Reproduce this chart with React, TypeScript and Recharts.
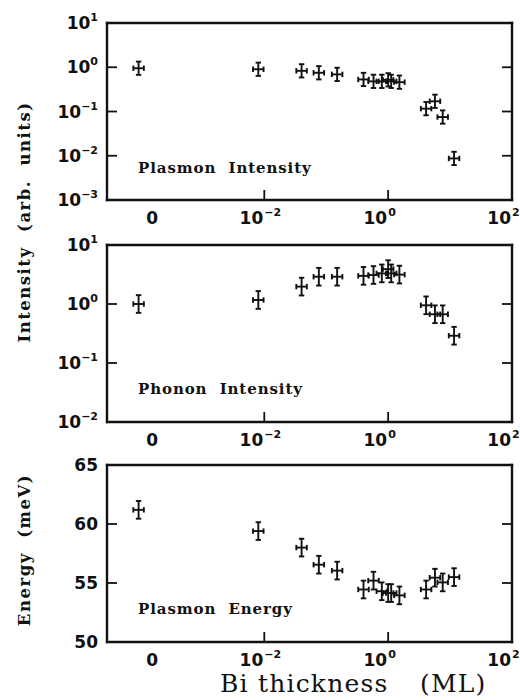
import React from 'react';
import { ScatterChart, Scatter, XAxis, YAxis, ErrorBar } from 'recharts';

// Bi thickness in monolayers; 0 is the clean surface, drawn left of the log axis
const thickness = [0, 0.008, 0.04, 0.076, 0.15, 0.4, 0.58, 0.79, 1.0, 1.12, 1.52, 4.1, 5.7, 7.6, 11.6];
const plasmonIntensity = [0.95, 0.9, 0.83, 0.75, 0.69, 0.53, 0.48, 0.48, 0.52, 0.48, 0.46, 0.116, 0.17, 0.075, 0.0087];
const phononIntensity = [1.0, 1.17, 1.97, 2.9, 2.9, 3.0, 3.1, 3.3, 3.9, 3.3, 3.15, 0.95, 0.67, 0.67, 0.29];
const plasmonEnergy = [61.2, 59.4, 58.0, 56.55, 56.05, 54.45, 55.2, 54.3, 54.15, 54.15, 53.95, 54.45, 55.45, 55.05, 55.5];

// error sizes: x in decades, intensities in decades, energy in meV
const X_ERR = 0.085;
const LOG_ERR = 0.15;
const E_ERR = 0.75;

// x axis is log10(thickness); the "0" point and its label sit on a broken segment
const X_MIN = -4.54;
const X_MAX = 2;
const ZERO_POS = -4.03;
const ZERO_LABEL = -3.81;
const xTicks = [ZERO_LABEL, -2, 0, 2];
const xMarks = [-2, 0];

const FONT_TICK = '"DejaVu Sans", sans-serif';
const FONT_TEXT = '"DejaVu Serif", serif';

const xPos = (t: number) => (t === 0 ? ZERO_POS : Math.log10(t));

const rows = (vals: number[], log: boolean, err: number) =>
  thickness.map((t, i) => ({ x: xPos(t), y: log ? Math.log10(vals[i]) : vals[i], ex: X_ERR, ey: err }));

const minus = (n: number) => (n < 0 ? '\u2212' + Math.abs(n) : String(n));

const panels = [
  { top: 23, data: rows(plasmonIntensity, true, LOG_ERR), domain: [-3, 1], ticks: [-3, -2, -1, 0, 1], log: true, note: 'Plasmon  Intensity', noteY: 173 },
  { top: 245, data: rows(phononIntensity, true, LOG_ERR), domain: [-2, 1], ticks: [-2, -1, 0, 1], log: true, note: 'Phonon  Intensity', noteY: 394 },
  { top: 465, data: rows(plasmonEnergy, false, E_ERR), domain: [50, 65], ticks: [50, 55, 60, 65], log: false, note: 'Plasmon  Energy', noteY: 614 },
];

const PLOT_H = 177;
const MARK = 10;
const INK = '#111';
const TICK_FS = 17;

const LeftTick = ({ x, y, payload, domain, log }: any) => {
  const v = payload.value;
  const inner = v > domain[0] && v < domain[1];
  return (
    <g>
      {inner && <line x1={x} x2={x + MARK} y1={y} y2={y} stroke={INK} strokeWidth={1.8} />}
      {log ? (
        <text x={x - 9} y={y + 6} textAnchor="end" fontFamily={FONT_TICK} fontWeight="bold" fontSize={TICK_FS} fill={INK}>
          <tspan>10</tspan>
          <tspan dy={-8} fontSize={11}>{minus(v)}</tspan>
        </text>
      ) : (
        <text x={x - 9} y={y + 6} textAnchor="end" fontFamily={FONT_TICK} fontWeight="bold" fontSize={TICK_FS} fill={INK}>{v}</text>
      )}
    </g>
  );
};

const RightTick = ({ x, y, payload, domain }: any) => {
  const v = payload.value;
  if (!(v > domain[0] && v < domain[1])) return <g />;
  return <line x1={x} x2={x - MARK} y1={y} y2={y} stroke={INK} strokeWidth={1.8} />;
};

const TopTick = ({ x, y, payload }: any) => {
  if (!xMarks.includes(payload.value)) return <g />;
  return <line x1={x} x2={x} y1={y} y2={y + MARK} stroke={INK} strokeWidth={1.8} />;
};

const BottomTick = ({ x, y, payload }: any) => {
  const v = payload.value;
  return (
    <g>
      {xMarks.includes(v) && <line x1={x} x2={x} y1={y} y2={y - MARK} stroke={INK} strokeWidth={1.8} />}
      {v === ZERO_LABEL ? (
        <text x={x} y={y + 24} textAnchor="middle" fontFamily={FONT_TICK} fontWeight="bold" fontSize={TICK_FS} fill={INK}>0</text>
      ) : (
        <g>
          <text x={x - 1} y={y + 24} textAnchor="end" fontFamily={FONT_TICK} fontWeight="bold" fontSize={TICK_FS} fill={INK}>10</text>
          <text x={x} y={y + 16} textAnchor="start" fontFamily={FONT_TICK} fontWeight="bold" fontSize={11} fill={INK}>{minus(v)}</text>
        </g>
      )}
    </g>
  );
};

const axisLine = { stroke: INK, strokeWidth: 2.4, strokeLinecap: 'square' as const };

function Panel({ p }: { p: (typeof panels)[number] }) {
  return (
    <div style={{ position: 'absolute', left: 0, top: p.top - 20 }}>
      <ScatterChart width={520} height={PLOT_H + 20 + 40} margin={{ top: 10, right: 0, bottom: 0, left: 0 }}>
        <XAxis xAxisId="b" type="number" dataKey="x" domain={[X_MIN, X_MAX]} ticks={xTicks} interval={0}
          allowDataOverflow height={40} tickSize={0} tickMargin={0} tickLine={false} axisLine={axisLine} tick={<BottomTick />} />
        <XAxis xAxisId="t" orientation="top" type="number" domain={[X_MIN, X_MAX]} ticks={xMarks} interval={0}
          allowDataOverflow height={10} tickSize={0} tickMargin={0} tickLine={false} axisLine={axisLine} tick={<TopTick />} />
        <YAxis yAxisId="l" type="number" dataKey="y" domain={p.domain} ticks={p.ticks} interval={0}
          allowDataOverflow width={107} tickSize={0} tickMargin={0} tickLine={false} axisLine={axisLine}
          tick={<LeftTick domain={p.domain} log={p.log} />} />
        <YAxis yAxisId="r" orientation="right" type="number" domain={p.domain} ticks={p.ticks} interval={0}
          allowDataOverflow width={8} tickSize={0} tickMargin={0} tickLine={false} axisLine={axisLine}
          tick={<RightTick domain={p.domain} />} />
        <Scatter xAxisId="b" yAxisId="l" data={p.data} isAnimationActive={false} shape={() => <g />}>
          <ErrorBar dataKey="ey" direction="y" width={2.7} stroke={INK} strokeWidth={1.9} isAnimationActive={false} />
          <ErrorBar dataKey="ex" direction="x" width={2.7} stroke={INK} strokeWidth={1.9} isAnimationActive={false} />
        </Scatter>
      </ScatterChart>
    </div>
  );
}

export default function App() {
  const note = { fontFamily: FONT_TEXT, fontWeight: 'bold', fontSize: 15, letterSpacing: 0.9, fill: INK, whiteSpace: 'pre' } as const;
  const title = { ...note, fontSize: 16.5, letterSpacing: 1.5 } as const;
  return (
    <div style={{ position: 'absolute', left: 0, top: 0, width: 520, height: 700, background: '#fff' }}>
      {panels.map((p, i) => <Panel key={i} p={p} />)}
      <svg width={520} height={700} style={{ position: 'absolute', left: 0, top: 0, pointerEvents: 'none' }}>
        {panels.map((p, i) => (
          <text key={i} x={138} y={p.noteY} style={note}>{p.note}</text>
        ))}
        <text transform="translate(30,222) rotate(-90)" textAnchor="middle" style={title}>Intensity  (arb.  units)</text>
        <text transform="translate(30,550) rotate(-90)" textAnchor="middle" style={title}>Energy  (meV)</text>
        <text x={220} y={692} fontFamily={FONT_TEXT} fontSize={25} letterSpacing={1.2} fill={INK}>
          Bi thickness<tspan x={420}>(ML)</tspan>
        </text>
      </svg>
    </div>
  );
}
